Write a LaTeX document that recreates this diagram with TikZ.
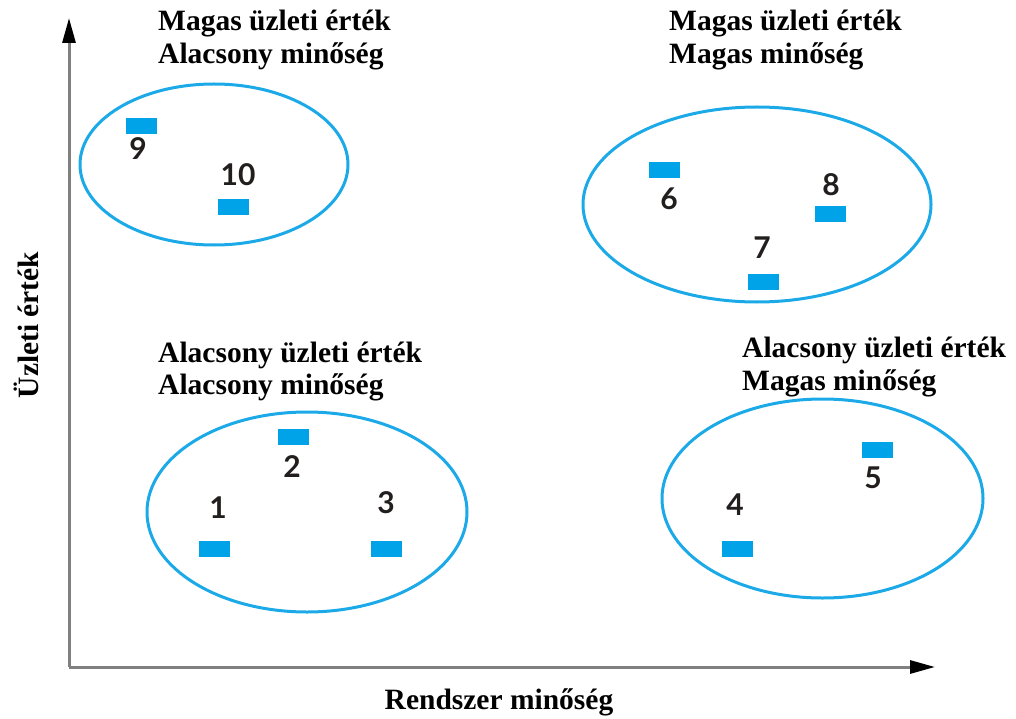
\documentclass[tikz,border=0pt]{standalone}
\usepackage{fontspec}
\setmainfont{Liberation Serif}
\newfontfamily\numfont{Lato}
\usetikzlibrary{arrows.meta,shapes.geometric}

\definecolor{axisgray}{RGB}{128,128,128}
\definecolor{ringblue}{RGB}{27,169,232}
\definecolor{markblue}{RGB}{0,162,232}
\definecolor{numink}{RGB}{35,30,30}

\tikzset{
  axis/.style={draw=axisgray, line width=3pt, -{Triangle[length=25pt,width=13pt,color=black]}},
  group/.style={draw=ringblue, line width=3pt, ellipse, inner sep=0pt},
  marker/.style={fill=markblue, minimum width=31pt, minimum height=16pt, inner sep=0pt},
  num/.style={text=numink, font=\numfont\bfseries\fontsize{30}{30}\selectfont, inner sep=0pt},
  quadlabel/.style={anchor=base west, inner sep=0pt, font=\bfseries\fontsize{29.5}{33}\selectfont},
  axislabel/.style={inner sep=0pt, font=\bfseries\fontsize{29.5}{33}\selectfont}
}

\begin{document}
\begin{tikzpicture}[x=1pt, y=-1pt]
  \useasboundingbox (0,0) rectangle (1016,719);

  % axes
  \coordinate (O) at (69,667);
  \coordinate (ytip) at (69,18);
  \coordinate (xtip) at (935,667);
  \draw[axis] (O) -- (ytip);
  \draw[axis] (O) -- (xtip);

  \node[axislabel] (xlab) at (499,702) {Rendszer minőség};
  \node[axislabel, rotate=90] (ylab) at (26,325) {Üzleti érték};

  % quadrant captions
  \node[quadlabel] (q1a) at (158,31) {Magas üzleti érték};
  \node[quadlabel] (q1b) at (158,64) {Alacsony minőség};
  \node[quadlabel] (q2a) at (669,31) {Magas üzleti érték};
  \node[quadlabel] (q2b) at (669,64) {Magas minőség};
  \node[quadlabel] (q3a) at (158,362) {Alacsony üzleti érték};
  \node[quadlabel] (q3b) at (158,394) {Alacsony minőség};
  \node[quadlabel] (q4a) at (742,357) {Alacsony üzleti érték};
  \node[quadlabel] (q4b) at (742,390) {Magas minőség};

  % groups
  \node[group, minimum width=268pt, minimum height=161pt] (g1) at (214,164.5) {};
  \node[group, minimum width=348pt, minimum height=195pt] (g2) at (757,204.5) {};
  \node[group, minimum width=320pt, minimum height=200pt] (g3) at (307,512) {};
  \node[group, minimum width=321pt, minimum height=199pt] (g4) at (822.5,498.5) {};

  % systems: markers
  \node[marker] (m9)  at (141.5,126.5) {};
  \node[marker] (m10) at (233.5,207) {};
  \node[marker] (m6)  at (664,170.5) {};
  \node[marker] (m8)  at (830,214.5) {};
  \node[marker] (m7)  at (763.5,282) {};
  \node[marker] (m2)  at (293.5,437) {};
  \node[marker] (m1)  at (214,549) {};
  \node[marker] (m3)  at (386.5,549) {};
  \node[marker] (m5)  at (877,449.5) {};
  \node[marker] (m4)  at (737,549) {};

  % systems: numbers
  \node[num] (n9)  at (138,148.5) {9};
  \node[num] (n10) at (238,174.5) {10};
  \node[num] (n6)  at (669,199) {6};
  \node[num] (n8)  at (831,185) {8};
  \node[num] (n7)  at (762,248) {7};
  \node[num] (n2)  at (292,467) {2};
  \node[num] (n1)  at (218,508) {1};
  \node[num] (n3)  at (386,503) {3};
  \node[num] (n5)  at (873,478) {5};
  \node[num] (n4)  at (735,505) {4};
\end{tikzpicture}
\end{document}
